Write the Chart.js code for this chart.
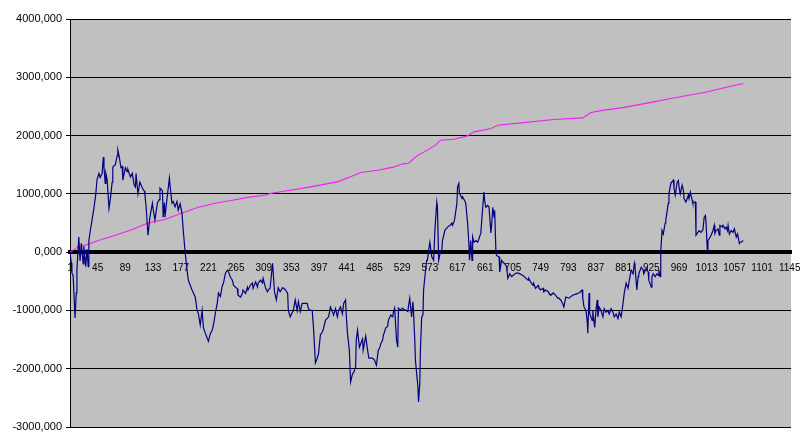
<!DOCTYPE html>
<html>
<head>
<meta charset="utf-8">
<title>Chart</title>
<script src="https://cdn.jsdelivr.net/npm/chart.js@4.4.0/dist/chart.umd.min.js"></script>
<style>
    html, body { margin: 0; padding: 0; background: #fff; }
    #chart { display: block; }
</style>
</head>
<body>
<canvas id="chart" width="800" height="440"></canvas>
<script>
// category labels shown on the x axis
const xTicks = [1, 45, 89, 133, 177, 221, 265, 309, 353, 397, 441, 485, 529, 573, 617,
    661, 705, 749, 793, 837, 881, 925, 969, 1013, 1057, 1101, 1145];

const yTicks = [-3000, -2000, -1000, 0, 1000, 2000, 3000, 4000];

// [category, value]
const navySeries = [
    [1,0],[3,-180],[4,-360],[6,-400],[9,-1130],[11,-700],[12,-300],[15,260],[17,-150],[19,150],
    [22,-200],[23,100],[26,-250],[28,50],[30,-250],[31,200],[33,350],[36,550],[39,750],[42,1000],
    [44,1250],[47,1350],[49,1280],[52,1350],[54,1630],[55,1450],[57,1180],[58,1350],[60,1250],[63,750],
    [65,900],[68,1200],[69,1460],[73,1500],[76,1650],[77,1750],[79,1650],[82,1450],[84,1470],[85,1235],
    [89,1450],[92,1380],[93,1420],[97,1290],[100,1350],[103,1150],[105,1115],[106,1350],[109,1000],[112,1200],
    [116,1100],[119,1050],[120,1000],[122,770],[125,290],[128,600],[132,840],[133,750],[136,550],[140,850],
    [143,900],[144,1100],[148,1050],[149,600],[151,850],[152,600],[155,900],[159,1270],[160,1150],[163,840],
    [165,870],[168,780],[171,870],[173,720],[176,830],[179,670],[181,375],[184,0],[187,-300],[189,-480],
    [195,-650],[200,-770],[203,-1000],[205,-1050],[208,-1250],[211,-1000],[213,-1290],[216,-1390],[221,-1530],[224,-1400],
    [227,-1340],[229,-1250],[232,-1050],[235,-880],[237,-700],[240,-760],[243,-580],[245,-530],[248,-360],[251,-310],
    [253,-340],[256,-430],[259,-480],[261,-570],[267,-630],[268,-740],[272,-770],[275,-710],[276,-650],[280,-710],
    [283,-600],[284,-650],[288,-560],[291,-530],[292,-620],[296,-510],[299,-600],[300,-530],[304,-480],[307,-530],
    [308,-450],[312,-620],[315,-680],[316,-650],[319,-620],[323,-190],[326,-680],[329,-820],[332,-610],[335,-680],
    [339,-610],[343,-640],[347,-710],[348,-1000],[351,-1110],[355,-1020],[356,-1000],[359,-820],[362,-1000],[364,-850],
    [367,-1020],[370,-880],[375,-880],[378,-880],[380,-970],[383,-1000],[386,-1000],[388,-1290],[390,-1680],[391,-1900],
    [394,-1820],[396,-1740],[399,-1420],[402,-1370],[404,-1310],[407,-1170],[412,-1110],[415,-940],[418,-1020],[420,-1080],
    [423,-970],[426,-1110],[428,-1000],[431,-940],[434,-1060],[436,-880],[439,-820],[440,-1060],[442,-1390],[445,-1680],
    [447,-2230],[450,-2090],[452,-2060],[455,-1970],[456,-1510],[458,-1340],[461,-1630],[466,-1490],[467,-1680],[471,-1440],
    [474,-1680],[476,-1820],[482,-1820],[485,-1850],[488,-1940],[491,-1680],[493,-1650],[495,-1570],[498,-1510],[499,-1430],
    [503,-1300],[506,-1270],[507,-1170],[511,-1080],[514,-1110],[515,-1030],[517,-960],[520,-1510],[522,-1630],[523,-960],
    [526,-990],[530,-960],[531,-990],[534,-990],[538,-1020],[539,-930],[541,-790],[544,-1110],[546,-850],[547,-1020],
    [549,-1510],[550,-1850],[552,-2080],[554,-2310],[555,-2570],[557,-2250],[558,-1680],[560,-1110],[562,-1080],[563,-650],
    [565,-430],[568,-140],[569,-140],[571,30],[573,170],[576,-80],[579,-140],[581,380],[584,860],[585,780],
    [587,-140],[589,-30],[592,30],[593,200],[597,380],[601,430],[605,460],[608,500],[609,460],[612,540],
    [616,840],[617,1120],[619,1180],[620,1010],[624,920],[625,950],[628,890],[630,840],[633,500],[635,150],
    [636,-140],[638,200],[640,-140],[641,260],[643,170],[646,200],[649,170],[651,230],[654,330],[657,770],
    [659,1030],[660,890],[662,770],[665,800],[667,770],[670,330],[671,440],[673,770],[675,600],[676,720],
    [678,0],[679,-60],[683,-80],[684,-340],[687,-140],[689,-170],[692,-200],[695,-250],[697,-450],[700,-370],
    [703,-420],[705,-400],[710,-360],[714,-360],[721,-400],[726,-450],[729,-480],[730,-450],[733,-510],[737,-570],
    [738,-540],[741,-620],[745,-570],[746,-600],[749,-650],[753,-620],[754,-680],[757,-650],[761,-680],[762,-700],
    [765,-740],[769,-700],[773,-740],[776,-790],[778,-790],[781,-820],[784,-880],[786,-940],[789,-770],[794,-790],
    [800,-740],[805,-720],[810,-700],[815,-650],[816,-790],[818,-940],[821,-1000],[823,-1170],[824,-1390],[826,-700],
    [827,-1050],[831,-1170],[832,-1000],[834,-1220],[835,-1290],[837,-1000],[839,-820],[840,-1110],[842,-940],[845,-1000],
    [848,-1110],[850,-970],[853,-1030],[856,-1000],[858,-1060],[861,-970],[864,-1030],[866,-1110],[869,-1060],[872,-1140],
    [874,-1030],[877,-1110],[880,-880],[882,-700],[885,-530],[888,-620],[890,-480],[893,-310],[896,-370],[898,-190],
    [899,-250],[902,-650],[904,-420],[905,-370],[909,-260],[912,-310],[913,-370],[917,-280],[920,-340],[921,-480],
    [925,-600],[926,-420],[928,-370],[931,-420],[934,-370],[936,-400],[937,-310],[939,-420],[940,0],[942,370],
    [944,310],[947,500],[948,550],[952,840],[953,1000],[956,1180],[960,1235],[961,1100],[963,980],[966,1200],
    [968,1230],[969,1120],[971,1000],[974,1150],[976,1060],[977,920],[980,860],[984,980],[985,920],[987,1030],
    [990,890],[991,840],[995,860],[996,290],[999,340],[1001,370],[1004,340],[1007,380],[1009,600],[1011,630],
    [1012,500],[1014,30],[1015,200],[1017,230],[1020,290],[1023,370],[1025,460],[1026,320],[1028,370],[1031,400],
    [1033,290],[1034,460],[1038,430],[1039,460],[1042,400],[1044,430],[1046,370],[1047,460],[1049,310],[1052,370],
    [1055,340],[1057,400],[1060,260],[1062,310],[1065,150],[1066,170],[1068,170],[1071,200]
];

const pinkSeries = [
    [1,0],[14,90],[25,120],[46,200],[73,290],[100,390],[125,500],[152,560],[179,670],[205,770],
    [232,840],[259,890],[284,940],[312,980],[319,1007],[351,1063],[383,1120],[426,1206],[447,1292],[463,1367],
    [490,1406],[515,1458],[530,1515],[539,1525],[554,1664],[569,1750],[582,1835],[590,1921],[611,1938],[633,1995],
    [643,2064],[670,2122],[681,2178],[718,2218],[770,2276],[816,2304],[829,2396],[850,2436],[877,2475],[929,2578],
    [956,2636],[1009,2739],[1036,2808],[1071,2894]
];

// grey plot area like the spreadsheet chart
const plotBackground = {
    id: 'plotBackground',
    beforeDraw(chart) {
        const { ctx, chartArea } = chart;
        ctx.save();
        ctx.fillStyle = '#c0c0c0';
        ctx.fillRect(chartArea.left, chartArea.top, chartArea.width, chartArea.height);
        ctx.restore();
    }
};

class ChartPage {
    constructor() {
        this.ctx = document.getElementById('chart');
        this.chart = null;
        this.init();
    }

    init() {
        this.chart = new Chart(this.ctx, {
            type: 'line',
            data: { datasets: this.buildDatasets() },
            options: this.buildOptions(),
            plugins: [plotBackground]
        });
    }

    toPoints(series) {
        return series.map(([x, y]) => ({ x, y }));
    }

    buildDatasets() {
        return [
            {
                label: 'Serie 1',
                data: this.toPoints(navySeries),
                borderColor: '#000080',
                borderWidth: 1.2,
                pointRadius: 0,
                tension: 0,
                fill: false
            },
            {
                label: 'Serie 2',
                data: this.toPoints(pinkSeries),
                borderColor: '#f020f0',
                borderWidth: 1.1,
                pointRadius: 0,
                tension: 0,
                fill: false
            }
        ];
    }

    formatValue(v) {
        return v.toFixed(3).replace('.', ',');
    }

    buildOptions() {
        return {
            responsive: false,
            devicePixelRatio: 1,
            animation: false,
            layout: { padding: { top: 19, right: 9, bottom: 13, left: 0 } },
            plugins: {
                legend: { display: false },
                tooltip: { enabled: false }
            },
            scales: {
                x: {
                    type: 'linear',
                    min: 1,
                    max: 1147,
                    position: { y: 0 },
                    afterBuildTicks: (scale) => {
                        scale.ticks = xTicks.map(v => ({ value: v }));
                    },
                    afterFit: (scale) => {
                        scale.paddingLeft = 0;
                        scale.paddingRight = 0;
                    },
                    ticks: {
                        autoSkip: false,
                        maxRotation: 0,
                        padding: 10,
                        color: '#000',
                        font: { family: 'Liberation Sans', size: 10 },
                        callback: (v) => String(v)
                    },
                    grid: { color: 'rgba(0,0,0,0)', drawOnChartArea: false, drawTicks: false },
                    border: { color: '#000', width: 4 }
                },
                y: {
                    type: 'linear',
                    min: -3000,
                    max: 4000,
                    afterBuildTicks: (scale) => {
                        scale.ticks = yTicks.map(v => ({ value: v }));
                    },
                    afterFit: (scale) => {
                        scale.width = 70;
                    },
                    ticks: {
                        padding: 4,
                        color: '#000',
                        font: { family: 'Liberation Sans', size: 11 },
                        callback: (v) => this.formatValue(v)
                    },
                    grid: { color: '#000', lineWidth: 1, tickLength: 4 },
                    border: { color: '#000', width: 1 }
                }
            }
        };
    }
}

new ChartPage();
</script>
</body>
</html>
